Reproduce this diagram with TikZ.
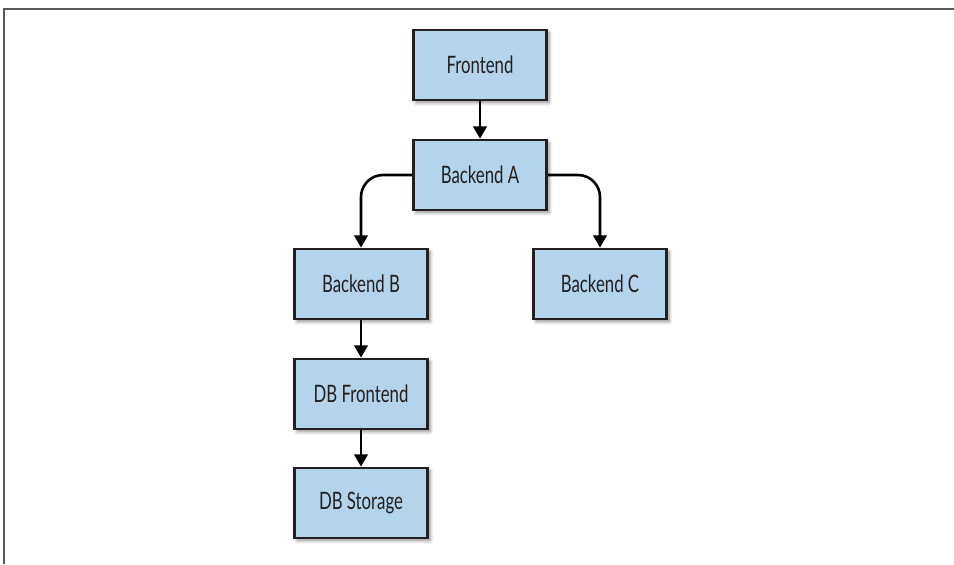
\documentclass[tikz,border=0pt]{standalone}
\usepackage{fontspec}
\newfontfamily\boxfont{Lato}[FakeStretch=0.7]
\usetikzlibrary{arrows.meta,shadows.blur}
\definecolor{boxblue}{HTML}{B3D4EA}
\definecolor{inkdark}{HTML}{231F20}
\begin{document}
\begin{tikzpicture}[x=0.5pt,y=-0.5pt,
        service/.style={draw=inkdark,line width=1.35pt,fill=boxblue,
            minimum width=66.5pt,minimum height=35pt,inner sep=0pt,
            font=\boxfont\fontsize{12}{14}\selectfont,text=inkdark,
            blur shadow={shadow xshift=1.3pt,shadow yshift=-1.3pt,shadow blur steps=6,shadow opacity=45}},
        link/.style={draw=black,line width=1.3pt,rounded corners=11pt,
            -{Triangle[width=6.8pt,length=6.2pt]}}]
        \useasboundingbox (0,0) rectangle (954,564);
        \draw[line width=1pt,gray!70!black] (954,9) -- (4,9) -- (4,564);
        \node[service] (fe) at (480,65) {Frontend};
        \node[service] (ba) at (480,175) {Backend A};
        \node[service] (bb) at (361,284) {Backend B};
        \node[service] (bc) at (600,284) {Backend C};
        \node[service] (dbf) at (361,394) {DB Frontend};
        \node[service] (dbs) at (361,503) {DB Storage};
        \draw[link] (fe) -- (ba);
        \draw[link] (ba.west) -| (bb.north);
        \draw[link] (ba.east) -| (bc.north);
        \draw[link] (bb) -- (dbf);
        \draw[link] (dbf) -- (dbs);
    \end{tikzpicture}
\end{document}
